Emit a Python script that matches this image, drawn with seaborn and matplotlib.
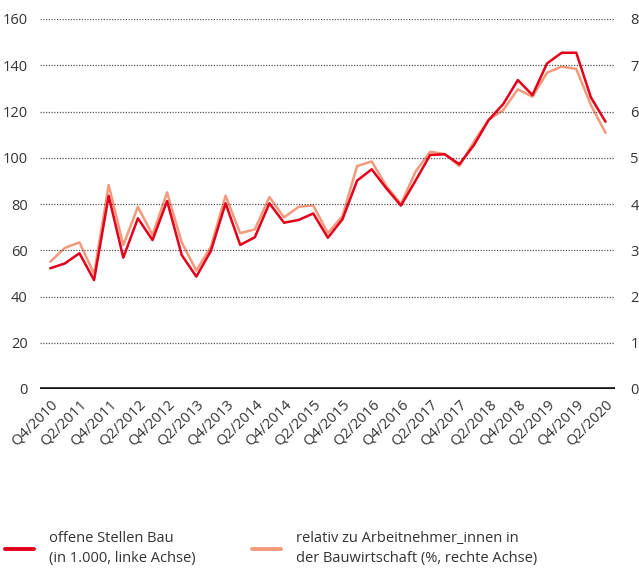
import matplotlib
matplotlib.use("Agg")
import matplotlib.pyplot as plt
import seaborn as sns
import pandas as pd

# Quarterly series, Q4/2010 .. Q2/2020
quarters = [
    "Q4/2010",
    "Q1/2011", "Q2/2011", "Q3/2011", "Q4/2011",
    "Q1/2012", "Q2/2012", "Q3/2012", "Q4/2012",
    "Q1/2013", "Q2/2013", "Q3/2013", "Q4/2013",
    "Q1/2014", "Q2/2014", "Q3/2014", "Q4/2014",
    "Q1/2015", "Q2/2015", "Q3/2015", "Q4/2015",
    "Q1/2016", "Q2/2016", "Q3/2016", "Q4/2016",
    "Q1/2017", "Q2/2017", "Q3/2017", "Q4/2017",
    "Q1/2018", "Q2/2018", "Q3/2018", "Q4/2018",
    "Q1/2019", "Q2/2019", "Q3/2019", "Q4/2019",
    "Q1/2020", "Q2/2020",
]

# open positions in construction, thousands (left axis)
offene_stellen = [
    52.2, 54.3, 58.7, 47.1, 83.5, 56.8, 73.8, 64.4, 81.3, 57.9,
    48.6, 59.8, 80.3, 62.3, 65.6, 80.3, 71.9, 73.1, 75.9, 65.4,
    73.4, 90.1, 95.0, 86.8, 79.3, 90.1, 101.2, 101.5, 97.2, 105.5,
    116.3, 123.2, 133.6, 127.1, 140.8, 145.4, 145.4, 126.1, 115.6,
]

# relative to employees in construction, percent (right axis)
relativ = [
    2.75, 3.05, 3.17, 2.49, 4.41, 3.11, 3.94, 3.33, 4.25, 3.17,
    2.56, 3.08, 4.18, 3.37, 3.45, 4.15, 3.71, 3.94, 3.97, 3.37,
    3.74, 4.82, 4.92, 4.39, 4.00, 4.70, 5.13, 5.08, 4.82, 5.35,
    5.82, 6.03, 6.48, 6.32, 6.84, 6.97, 6.92, 6.14, 5.54,
]

left_ticks = [0, 20, 40, 60, 80, 100, 120, 140, 160]
right_ticks = [0, 1, 2, 3, 4, 5, 6, 7, 8]

label_red = "offene Stellen Bau\n(in 1.000, linke Achse)"
label_salmon = "relativ zu Arbeitnehmer_innen in\nder Bauwirtschaft (%, rechte Achse)"

RED = "#e2001a"
SALMON = "#f39a7c"
TEXT = "#333333"

sns.set_theme(style="white")
plt.rcParams["font.family"] = ["Open Sans", "DejaVu Sans"]

df = pd.DataFrame({
    "idx": range(len(quarters)),
    "quarter": quarters,
    "stellen": offene_stellen,
    "relativ": relativ,
})

fig = plt.figure(figsize=(6.39, 5.70), dpi=100)
ax = fig.add_axes([40 / 639, 1 - 389 / 570, 575 / 639, 370 / 570])
ax2 = ax.twinx()

sns.lineplot(data=df, x="idx", y="relativ", ax=ax2, color=SALMON, lw=1.8, zorder=3)
sns.lineplot(data=df, x="idx", y="stellen", ax=ax, color=RED, lw=1.8, zorder=4)

# put the left-axis line on top of the right-axis line
ax.set_zorder(ax2.get_zorder() + 1)
ax.patch.set_visible(False)

ax.set_ylim(0, 160)
ax2.set_ylim(0, 8)
ax.set_xlim(-0.7, len(quarters) - 0.35)

ax.set_yticks(left_ticks)
ax2.set_yticks(right_ticks)
ax.set_yticklabels([str(t) for t in left_ticks])
ax2.set_yticklabels([str(t) for t in right_ticks])

for t in left_ticks[1:]:
    ax.axhline(t, color="#555555", lw=0.9, ls=(0, (1, 1.2)), zorder=1)
ax.axhline(0, color="#111111", lw=2.6, zorder=5)

xt = list(range(0, len(quarters), 2))
ax.set_xticks(xt)
ax.set_xticklabels([quarters[i] for i in xt], rotation=45, ha="right",
                   rotation_mode="anchor", fontsize=10.5, color=TEXT)

for a in (ax, ax2):
    a.set_xlabel("")
    a.set_ylabel("")
    for s in a.spines.values():
        s.set_visible(False)
    a.grid(False)
    a.tick_params(length=0, colors=TEXT, labelsize=10.5)

ax.tick_params(axis="y", pad=9)
ax2.tick_params(axis="y", pad=11)
ax.tick_params(axis="x", pad=6)

red_line = ax.get_lines()[0]
salmon_line = ax2.get_lines()[0]
leg = fig.legend([red_line, salmon_line], [label_red, label_salmon],
                 loc="upper left", bbox_to_anchor=(5 / 639, 1 - 531 / 570),
                 ncol=2, frameon=False, fontsize=10.5, handlelength=2.0,
                 handletextpad=1.05, columnspacing=3.8, labelcolor=TEXT,
                 borderaxespad=0.0, borderpad=0.0)
for h in leg.legend_handles:
    h.set_linewidth(2.8)
for txt in leg.get_texts():
    txt.set_linespacing(1.45)

fig.savefig("out.png", dpi=100)
